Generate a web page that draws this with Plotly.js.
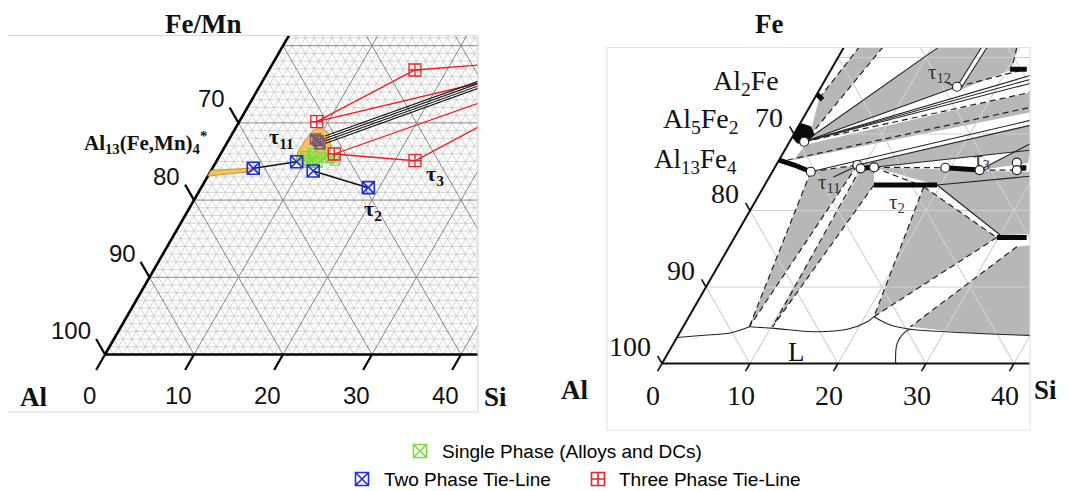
<!DOCTYPE html>
<html><head><meta charset="utf-8">
<script src="https://cdn.plot.ly/plotly-3.0.1.min.js"></script>
<style>body{margin:0;background:#fff;overflow:hidden}#chart{width:1078px;height:491px}</style>
</head><body><div id="chart"></div>
<script>
// ================= LEFT PANEL DATA (at.% Si, at.% Fe/Mn) =================
const bottomTickValues = [0, 10, 20, 30, 40];          // at.% Si
const sideTickFe = [0, 10, 20, 30];                     // position along Al-Fe edge
const sideTickLabels = ['100', '90', '80', '70'];       // at.% Al

const threePhaseSi = [16.4, 8.71, 12.77, 22.28];
const threePhaseFe = [36.85, 30.16, 25.97, 25.1];
const twoPhaseSi = [4.6, 9.05, 11.51, 18.78];
const twoPhaseFe = [24.12, 24.97, 23.77, 21.61];
const overlapSi = [9.7, 10.5, 10.1];
const overlapFe = [27.9, 27.3, 27.7];
const singleSi = [9.6, 10.3, 11.2, 11.9, 10.7, 11.5, 12.6, 13.3, 10.4];
const singleFe = [25.7, 26.1, 26.0, 25.5, 25.1, 24.8, 25.4, 25.1, 24.8];

const redTie1 = [[8.71, 30.16], [16.4, 36.85], [23.27, 37.5]];
const redTie2 = [[8.71, 30.16], [24.44, 35.17]];
const redTie3 = [[12.77, 25.97], [25.73, 32.58]];
const redTie4 = [[12.77, 25.97], [22.28, 25.1], [27.27, 29.51]];
const blackTie1 = [[4.6, 24.12], [9.05, 24.97]];
const blackTie2 = [[11.51, 23.77], [18.78, 21.61]];
const bundleStart = [[10.57, 28.3], [10.73, 27.98], [10.89, 27.66], [11.06, 27.33]];
const bundleEnd = [[24.31, 35.43], [24.46, 35.13], [24.61, 34.83], [24.76, 34.52]];
const al13Sliver = [[0, 23.12], [4.78, 23.7], [4.55, 24.16], [0, 23.83]];
const al13Blob = [[9.49, 29.4], [10.7, 28.75], [11.8, 27.14], [12.3, 25.84], [11.8, 24.9],
                  [10.6, 24.35], [9.0, 24.94], [8.55, 26.23], [8.6, 27.78], [8.9, 29.0]];

// ================= RIGHT PANEL DATA (at.% Si, at.% Fe) =================
const greyP1 = [[0.53, 34.67], [1.71, 41.3], [4.41, 41.3], [1.91, 29.65]];
const greyW = [[1.66, 28.99], [10.69, 41.3], [15.64, 41.3], [15.43, 36.18]];
const greyW2 = [[15.98, 35.75], [16.27, 41.31], [19.67, 41.31], [20.5, 38.4]];
const greyF1 = [[2.0, 28.6], [24.27, 35.49], [25.58, 32.88], [1.65, 26.6]];
const greyF3 = [[9.23, 25.95], [26.43, 31.18], [28.06, 27.91], [11.27, 25.65]];
const greyF4 = [[23.44, 25.29], [27.61, 28.82], [28.5, 26.2]];
const greyG1 = [[4.37, 25.07], [9.23, 25.95], [7.52, 4.81]];
const greyG2 = [[9.81, 25.52], [11.27, 25.65], [12.42, 23.33], [10.16, 4.81]];
const greyG3 = [[18.19, 23.11], [29.81, 16.47], [21.03, 6.12]];
const greyG4 = [[19.59, 23.33], [29.77, 24.51], [33.56, 16.93], [30.03, 16.8]];
const greyG5 = [[32.69, 15.27], [34.27, 15.49], [40.16, 3.73], [38.46, 3.73], [32.27, 4.03], [25.82, 4.81]];
const greyG6 = [[11.27, 25.65], [29.5, 25.03], [29.9, 24.25], [19.59, 23.33]];

const al5fe2Phase = [[0, 31.4], [1.43, 30.95], [2.36, 29.87], [1.84, 29.0], [1.0, 28.8], [0, 29.6]];
const thickAl2Fe = [[0, 35.2], [1.0, 34.5]];
const thickAl13Fe4 = [[0, 26.6], [2.06, 25.95], [4.37, 25.07]];
const thickTau11 = [[9.81, 25.52], [11.27, 25.65]];
const thickTau3 = [[19.4, 25.59], [23.44, 25.29]];
const thickTau2 = [[12.42, 23.33], [19.59, 23.33]];
const thickLowRight = [[29.81, 16.47], [33.21, 16.47]];
const thickTopRight = [[20.33, 38.46], [22.22, 38.46]];
const thickMidRight = [[27.67, 25.6], [28.6, 25.6]];

const nodeSi = [1.66, 4.37, 9.23, 9.81, 11.27, 19.4, 23.44, 27.2, 27.67, 15.43];
const nodeFe = [28.99, 25.07, 25.95, 25.52, 25.65, 25.59, 25.29, 26.25, 25.29, 36.18];

const dashedSegs = [
  [[0.53, 34.67], [1.71, 41.3]], [[1.91, 29.65], [4.41, 41.3]],
  [[1.66, 28.99], [24.27, 35.49]], [[0.97, 26.6], [25.25, 33.53]],
  [[15.43, 36.18], [22.2, 38.5]], [[19.67, 41.31], [20.5, 38.4]],
  [[4.37, 25.07], [9.23, 25.95]], [[11.27, 25.65], [19.4, 25.59]], [[23.44, 25.29], [29.5, 25.29]],
  [[4.37, 25.07], [7.52, 4.81]], [[9.23, 25.95], [7.52, 4.81]],
  [[9.81, 25.52], [10.16, 4.81]], [[12.42, 23.33], [10.16, 4.81]],
  [[18.19, 23.11], [21.03, 6.12]], [[18.19, 23.11], [29.81, 16.47]], [[21.03, 6.12], [29.81, 16.47]],
  [[32.69, 15.27], [25.82, 4.81]], [[11.27, 25.65], [18.19, 23.11]]
];
const solidSegs = [
  [[1.66, 28.99], [10.69, 41.3]], [[1.66, 28.99], [15.43, 36.18]],
  [[1.66, 28.99], [23.16, 37.71]], [[1.66, 28.99], [23.42, 37.19]], [[1.66, 28.99], [23.68, 36.67]],
  [[15.43, 36.18], [15.64, 41.3]], [[15.98, 35.75], [16.27, 41.31]],
  [[4.37, 25.07], [26.1, 31.83]], [[9.23, 25.95], [26.43, 31.18]], [[11.27, 25.65], [28.06, 27.91]],
  [[23.44, 25.29], [27.61, 28.82]], [[19.59, 23.33], [29.77, 24.51]], [[19.59, 23.33], [30.03, 16.8]],
  [[13.78, 36.84], [15.24, 36.18]], [[7.29, 24.38], [9.29, 25.82]]
];
const liquidusA = [[0, 3.4], [2.26, 3.63], [5.84, 4.03], [7.52, 4.81]];
const liquidusB = [[7.52, 4.81], [10.46, 4.6], [15.21, 4.16], [18.82, 4.47], [20.6, 5.46], [21.03, 6.12]];
const liquidusC = [[21.03, 6.12], [23.45, 5.03], [26.0, 4.47], [32.27, 4.03], [38.46, 3.73], [41.5, 3.65]];
const liquidusD = [[26.55, 0], [25.41, 2.64], [25.59, 4.16], [26.0, 4.47]];

// legend entries (drawn as a key below the panels)
const legendNames = ['Single Phase (Alloys and DCs)', 'Two Phase Tie-Line', 'Three Phase Tie-Line'];

// ================= helpers: ternary composition -> plane =================
const px = (si, fe) => si + fe / 2;
function poly(pts) { return { x: pts.map(p => px(p[0], p[1])), y: pts.map(p => p[1]) }; }
function segs(list) {
  const x = [], y = [];
  list.forEach(s => { s.forEach(p => { x.push(px(p[0], p[1])); y.push(p[1]); }); x.push(null); y.push(null); });
  return { x, y };
}
function grid(values) {
  const list = [];
  values.forEach(c => {
    list.push([[0, c], [100 - c, c]]);          // Fe = c
    list.push([[c, 0], [c, 100 - c]]);          // Si = c
    list.push([[c, 0], [0, c]]);                // Al = 100 - c
  });
  return segs(list);
}
const minorVals = [], majorVals = [];
for (let c = 1; c < 100; c++) (c % 10 === 0 ? majorVals : minorVals).push(c);

const traces = [];
function line(list, ax, color, width, dash, shape) {
  const s = segs(list);
  traces.push({ type: 'scatter', mode: 'lines', x: s.x, y: s.y, xaxis: ax[0], yaxis: ax[1],
    line: { color, width, dash: dash || 'solid', shape: shape || 'linear' }, hoverinfo: 'skip', showlegend: false });
}
function fillPoly(pts, ax, fill, lineColor, lw) {
  const p = poly(pts.concat([pts[0]]));
  traces.push({ type: 'scatter', mode: 'lines', x: p.x, y: p.y, xaxis: ax[0], yaxis: ax[1], fill: 'toself',
    fillcolor: fill, line: { color: lineColor, width: lw }, hoverinfo: 'skip', showlegend: false });
}
function markers(si, fe, ax, marker) {
  traces.push({ type: 'scatter', mode: 'markers', x: si.map((s, i) => px(s, fe[i])), y: fe, xaxis: ax[0], yaxis: ax[1],
    marker, hoverinfo: 'skip', showlegend: false });
}
const L = ['x', 'y'], R = ['x2', 'y2'];
const mkSingle = { symbol: 'square-x-open', size: 9, color: '#72e03c', line: { width: 1.1 } };
const mkOverlap = { symbol: 'square-x-open', size: 10, color: '#7a5a6e', line: { width: 1.5 } };
const mkTwo = { symbol: 'square-x-open', size: 12, color: '#1c2fe0', line: { width: 1.6 } };
const mkThree = { symbol: 'square-cross-open', size: 12, color: '#e8242a', line: { width: 1.3 } };

// ---------- left panel ----------
let g = grid(minorVals);
traces.push({ type: 'scatter', mode: 'lines', x: g.x, y: g.y, xaxis: 'x', yaxis: 'y', line: { color: '#c3c3c3', width: 0.7 }, hoverinfo: 'skip', showlegend: false });
g = grid(majorVals);
traces.push({ type: 'scatter', mode: 'lines', x: g.x, y: g.y, xaxis: 'x', yaxis: 'y', line: { color: '#858585', width: 1 }, hoverinfo: 'skip', showlegend: false });
line([[[0, 0], [100, 0]], [[0, 0], [0, 100]]], L, '#000', 2.6);
line(bottomTickValues.map(c => [[c, 0], [c, -2]]).concat(sideTickFe.map(f => [[0, f], [-2, f + 2]])), L, '#000', 2.2);
fillPoly(al13Sliver, L, '#f3c25e', '#c99a32', 1);
fillPoly(al13Blob, L, '#f4c260', '#c99a32', 1);
line([redTie1, redTie2, redTie3, redTie4], L, '#ee1c1c', 1.3);
line(bundleStart.map((p, i) => [p, bundleEnd[i]]), L, '#111', 1.1);
line([blackTie1, blackTie2], L, '#111', 1.5);
markers(singleSi, singleFe, L, mkSingle);
markers(overlapSi, overlapFe, L, mkOverlap);
markers(twoPhaseSi, twoPhaseFe, L, mkTwo);
markers(threePhaseSi, threePhaseFe, L, mkThree);

// ---------- right panel ----------
const GREY = '#b7b7b7';
[greyP1, greyW, greyW2, greyF1, greyF3, greyF4, greyG1, greyG2, greyG3, greyG4, greyG5, greyG6]
  .forEach(p => fillPoly(p, R, GREY, 'rgba(0,0,0,0)', 0));
g = grid(majorVals);
traces.push({ type: 'scatter', mode: 'lines', x: g.x, y: g.y, xaxis: 'x2', yaxis: 'y2', line: { color: '#cfcfcf', width: 1.1 }, hoverinfo: 'skip', showlegend: false });
line(dashedSegs, R, '#222', 1.2, '6px,4px');
line(solidSegs, R, '#222', 1.1);
line([liquidusA, liquidusB, liquidusC, liquidusD], R, '#222', 1.1, 'solid', 'spline');
line([[[0, 0], [100, 0]], [[0, 0], [0, 100]]], R, '#111', 2);
line(bottomTickValues.map(c => [[c, 0], [c, -1]]).concat(sideTickFe.map(f => [[0, f], [-1, f + 1]])), R, '#111', 1.6);
fillPoly(al5fe2Phase, R, '#0a0a0a', '#0a0a0a', 1);
line([thickAl2Fe, thickAl13Fe4, thickTau11, thickTau3, thickTau2, thickLowRight, thickTopRight, thickMidRight], R, '#0a0a0a', 5);
markers(nodeSi, nodeFe, R, { symbol: 'circle', size: 9, color: '#fff', line: { color: '#222', width: 1.2 } });

// ---------- legend key (pixel-referenced helper axes) ----------
const W = 1078, H = 491;
const keyX = [420, 362, 598], keyY = [451, 479, 479];
[mkSingle, mkTwo, mkThree].forEach((m, i) => traces.push({ type: 'scatter', mode: 'markers', x: [keyX[i]], y: [keyY[i]],
  xaxis: 'x3', yaxis: 'y3', marker: Object.assign({}, m, { size: 13, line: { width: 1.6 } }), hoverinfo: 'skip', showlegend: false }));

// ================= layout =================
const serif = 'Liberation Serif, Times New Roman, serif';
const sans = 'Liberation Sans, Arial, sans-serif';
function ann(text, x, y, ref, size, family, extra) {
  return Object.assign({ text, x, y, xref: ref[0], yref: ref[1], showarrow: false,
    font: { size, family, color: '#111' }, xanchor: 'center', yanchor: 'middle' }, extra || {});
}
const annotations = [];
bottomTickValues.forEach(c => annotations.push(ann(String(c), c - 1.7, -5.3, L, 24, sans)));
sideTickFe.forEach((f, i) => annotations.push(ann(sideTickLabels[i], f / 2 - 1.3, f + 3.1, L, 24, sans, { xanchor: 'right' })));
bottomTickValues.forEach(c => annotations.push(ann(String(c), c - 1.0, -4.2, R, 28, serif)));
sideTickFe.forEach((f, i) => annotations.push(ann(sideTickLabels[i], f / 2 - 1.0, f + 2.2, R, 28, serif, { xanchor: 'right' })));
const P = ['paper', 'paper'];
annotations.push(ann('<b>Fe/Mn</b>', 203 / W, 1 - 24 / H, P, 27, serif));
annotations.push(ann('<b>Al</b>', 33 / W, 1 - 397 / H, P, 27, serif));
annotations.push(ann('<b>Si</b>', 495 / W, 1 - 397 / H, P, 27, serif));
annotations.push(ann('<b>Fe</b>', 769 / W, 1 - 24 / H, P, 27, serif));
annotations.push(ann('<b>Al</b>', 574 / W, 1 - 390 / H, P, 27, serif));
annotations.push(ann('<b>Si</b>', 1045 / W, 1 - 390 / H, P, 27, serif));
annotations.push(ann('<b>Al<sub>13</sub>(Fe,Mn)<sub>4</sub><sup>*</sup></b>', 4.6, 27.4, L, 21, serif));
annotations.push(ann('<b>τ<sub>11</sub></b>', 19.85, 28.0, L, 22, serif));
annotations.push(ann('<b>τ<sub>3</sub></b>', 37.1, 23.25, L, 22, serif));
annotations.push(ann('<b>τ<sub>2</sub></b>', 30.15, 18.7, L, 22, serif));
const tauFont = { size: 21, family: serif, color: '#333' };
annotations.push(ann('Al<sub>2</sub>Fe', 9.6, 36.8, R, 28, serif));
annotations.push(ann('Al<sub>5</sub>Fe<sub>2</sub>', 4.4, 31.8, R, 28, serif));
annotations.push(ann('Al<sub>13</sub>Fe<sub>4</sub>', 3.8, 26.45, R, 27, serif));
annotations.push(ann('τ<sub>12</sub>', 31.59, 37.93, R, 21, serif, { font: tauFont }));
annotations.push(ann('τ<sub>11</sub>', 19.09, 23.56, R, 21, serif, { font: tauFont }));
annotations.push(ann('τ<sub>3</sub>', 36.33, 26.6, R, 21, serif, { font: tauFont }));
annotations.push(ann('τ<sub>2</sub>', 26.67, 20.94, R, 21, serif, { font: tauFont }));
annotations.push(ann('L', 15.31, 1.54, R, 27, serif));
const keyTextX = [440, 382, 617];
legendNames.forEach((t, i) => annotations.push(ann(t, keyTextX[i], keyY[i], ['x3', 'y3'], 19, sans,
  { xanchor: 'left', font: { size: 19, family: sans, color: '#000' } })));

const frameL = '#d9d9d9';
const shapes = [
  { type: 'line', xref: 'x domain', yref: 'y domain', x0: 0, x1: 1, y0: 1, y1: 1, line: { color: frameL, width: 1.2 } },
  { type: 'line', xref: 'x domain', yref: 'y domain', x0: 1, x1: 1, y0: 0, y1: 1, line: { color: frameL, width: 1.2 } },
  { type: 'line', xref: 'x domain', yref: 'y domain', x0: 0, x1: 1, y0: 0, y1: 0, line: { color: frameL, width: 1.2 } },
  { type: 'rect', xref: 'x2 domain', yref: 'y2 domain', x0: 0, x1: 1, y0: 0, y1: 1, line: { color: '#e3e3e3', width: 1.2 } }
];
const hidden = { visible: false, fixedrange: true, showgrid: false, zeroline: false };
const layout = {
  width: W, height: H, margin: { l: 0, r: 0, t: 0, b: 0 }, paper_bgcolor: '#fff', plot_bgcolor: 'rgba(0,0,0,0)',
  showlegend: false,
  xaxis: Object.assign({ domain: [8 / W, 478 / W], range: [-10.9, 41.91] }, hidden),
  yaxis: Object.assign({ domain: [1 - 412 / H, 1 - 35.5 / H], range: [-7.45, 41.32] }, hidden),
  xaxis2: Object.assign({ domain: [607 / W, 1030 / W], range: [-6.25, 41.82], anchor: 'y2' }, hidden),
  yaxis2: Object.assign({ domain: [1 - 430 / H, 1 - 47.5 / H], range: [-8.69, 41.31], anchor: 'x2' }, hidden),
  xaxis3: Object.assign({ domain: [0, 1], range: [0, W], anchor: 'y3' }, hidden),
  yaxis3: Object.assign({ domain: [0, 1], range: [H, 0], anchor: 'x3' }, hidden),
  shapes, annotations
};
Plotly.newPlot('chart', traces, layout, { staticPlot: true, displayModeBar: false });
</script></body></html>
